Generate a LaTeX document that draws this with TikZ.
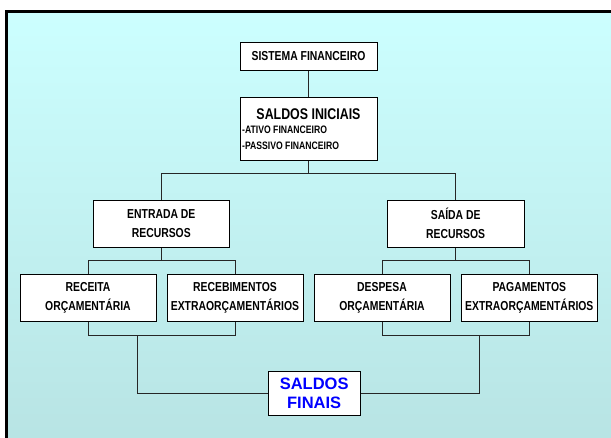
\documentclass[tikz,border=0pt]{standalone}
\usepackage{fontspec}
\setmainfont{Liberation Sans}[FakeStretch=0.8]
\newfontfamily\finaisfont{Liberation Sans}
\definecolor{fundocima}{RGB}{204,255,255}
\definecolor{fundobaixo}{RGB}{184,228,228}
\definecolor{azulfinal}{RGB}{0,0,255}

\begin{document}
\begin{tikzpicture}[x=1pt,y=-1pt,
  caixa/.style={draw=black, fill=white, line width=1pt, align=center, inner sep=0pt,
    font=\bfseries\fontsize{13}{18.5}\selectfont},
  liga/.style={draw=black!85, line width=0.9pt}]
\useasboundingbox (0,0) rectangle (611,437);
\fill[top color=fundocima, bottom color=fundobaixo] (6.5,11.5) rectangle (611,437);
\draw[line width=3pt] (6.5,450) -- (6.5,11.5) -- (620,11.5);
% topo
\node[caixa, minimum width=137pt, minimum height=28pt] (sis) at (308.5,56) {SISTEMA FINANCEIRO};
\node[caixa, minimum width=137pt, minimum height=63pt] (ini) at (308.5,128.5) {};
\node[font=\bfseries\fontsize{15.5}{17}\selectfont, inner sep=0pt] (initit) at (308.5,114) {SALDOS INICIAIS};
\node[anchor=west, font=\bfseries\fontsize{10.8}{12}\selectfont, inner sep=0pt] (ativo) at (242,130) {-ATIVO FINANCEIRO};
\node[anchor=west, font=\bfseries\fontsize{10.8}{12}\selectfont, inner sep=0pt] (passivo) at (242,146) {-PASSIVO FINANCEIRO};
% entrada e saida
\node[caixa, minimum width=136pt, minimum height=47pt] (ent) at (161.3,223.5) {ENTRADA DE\\RECURSOS};
\node[caixa, minimum width=136.7pt, minimum height=47pt] (sai) at (455.7,223.5) {SAÍDA DE\\RECURSOS};
% receitas e despesas
\foreach \nome/\x/\txt in {rec/88/{RECEITA\\ORÇAMENTÁRIA}, reb/235/{RECEBIMENTOS\\EXTRAORÇAMENTÁRIOS},
  desp/382/{DESPESA\\ORÇAMENTÁRIA}, pag/529.3/{PAGAMENTOS\\EXTRAORÇAMENTÁRIOS}}
  \node[caixa, minimum width=136pt, minimum height=47.7pt] (\nome) at (\x,298) {\txt};
\node[caixa, minimum width=92pt, minimum height=44pt, text=azulfinal,
  font=\finaisfont\bfseries\fontsize{16.5}{19}\selectfont] (fin) at (314.2,393) {SALDOS\\FINAIS};
% ligacoes
\draw[liga] (sis) -- (ini);
\draw[liga] (ini.south) -- ++(0,13) -| (ent.north);
\draw[liga] (ini.south) ++(0,13) -| (sai.north);
\draw[liga] (ent.south) -- ++(0,13.3) -| (rec.north);
\draw[liga] (ent.south) ++(0,13.3) -| (reb.north);
\draw[liga] (sai.south) -- ++(0,13.3) -| (desp.north);
\draw[liga] (sai.south) ++(0,13.3) -| (pag.north);
\coordinate (jesq) at (137.7,335);
\coordinate (jdir) at (479.5,335);
\draw[liga] (rec.south) -- ++(0,13.3) -| (reb.south);
\draw[liga] (desp.south) -- ++(0,13.3) -| (pag.south);
\draw[liga] (jesq) |- (fin.west);
\draw[liga] (jdir) |- (fin.east);
\end{tikzpicture}
\end{document}
